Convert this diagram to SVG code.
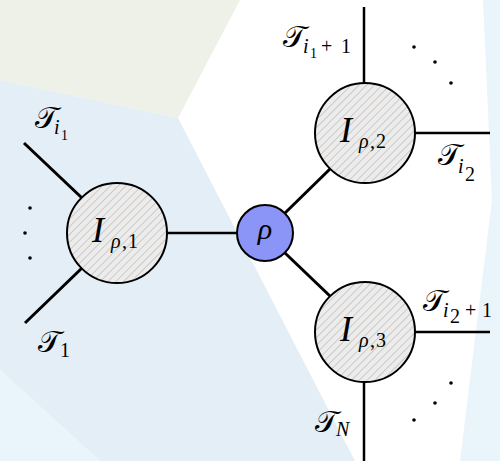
<svg xmlns="http://www.w3.org/2000/svg" width="500" height="461" viewBox="0 0 500 461">
<style>
.leg{stroke:#000;stroke-width:2.5;fill:none;stroke-linecap:butt}
.edge{stroke:#000;stroke-width:3;fill:none}
.blob{fill:url(#hatch);stroke:#000;stroke-width:2}
.rho{fill:#8b95f7;stroke:#000;stroke-width:2}
.m{font-family:"Liberation Serif","DejaVu Serif",serif;font-size:30px;fill:#000}
.it{font-style:italic}
.s{font-size:20px}
.ss{font-size:14px}
.dot{fill:#000}
</style>
<defs>
<pattern id="hatch" width="5.5" height="5.5" patternUnits="userSpaceOnUse" patternTransform="rotate(45)">
<rect width="5.5" height="5.5" fill="#ececec"/>
<line x1="0" y1="0" x2="0" y2="5.5" stroke="#b3afa9" stroke-width="1.1"/>
</pattern>
</defs>
<g id="background">
<rect width="500" height="461" fill="#ffffff"/>
<polygon points="0,0 240,0 178,118 0,80" fill="#eef1e7"/>
<polygon points="0,80 178,118 355,461 100,461 0,370" fill="#e4eef6"/>
<polygon points="0,370 100,461 0,461" fill="#e9f4fb"/>
<polygon points="483,0 492,200 460,461 500,461 500,0" fill="#e9f4fb"/>
</g>
<g id="connectors">
<line class="leg" x1="167" y1="233" x2="237" y2="233"/>
<line class="edge" x1="285" y1="213" x2="331" y2="168"/>
<line class="edge" x1="285" y1="253" x2="331" y2="297"/>
<line class="edge" x1="82" y1="198" x2="24" y2="143"/>
<line class="edge" x1="82" y1="268" x2="25" y2="323"/>
<line class="leg" x1="364" y1="83" x2="364" y2="7"/>
<line class="leg" x1="415" y1="133" x2="490" y2="133"/>
<line class="leg" x1="415" y1="332" x2="490" y2="332"/>
<line class="leg" x1="364" y1="382" x2="364" y2="461"/>
</g>
<g id="dots">
<circle class="dot" cx="30" cy="208" r="1.8"/>
<circle class="dot" cx="25" cy="233" r="1.8"/>
<circle class="dot" cx="30" cy="258" r="1.8"/>
<circle class="dot" cx="414" cy="47" r="1.8"/>
<circle class="dot" cx="435" cy="62" r="1.8"/>
<circle class="dot" cx="451" cy="83" r="1.8"/>
<circle class="dot" cx="451" cy="383" r="1.8"/>
<circle class="dot" cx="435" cy="403" r="1.8"/>
<circle class="dot" cx="414" cy="420" r="1.8"/>
</g>
<g id="node-I1">
<circle class="blob" cx="117" cy="233" r="50"/>
<text class="m"><tspan class="it" x="92" y="242" font-size="36">I</tspan><tspan class="it s" x="111" y="248">ρ</tspan><tspan class="s" x="122" y="248">,</tspan><tspan class="s" x="128" y="248">1</tspan></text>
</g>
<g id="node-rho">
<circle class="rho" cx="265" cy="233" r="28"/>
<text class="m it" x="265" y="239" text-anchor="middle" font-size="32">ρ</text>
</g>
<g id="node-I2">
<circle class="blob" cx="365" cy="133" r="50"/>
<text class="m"><tspan class="it" x="340" y="142" font-size="36">I</tspan><tspan class="it s" x="359" y="148">ρ</tspan><tspan class="s" x="370" y="148">,</tspan><tspan class="s" x="376" y="148">2</tspan></text>
</g>
<g id="node-I3">
<circle class="blob" cx="365" cy="332" r="50"/>
<text class="m"><tspan class="it" x="340" y="341" font-size="36">I</tspan><tspan class="it s" x="359" y="347">ρ</tspan><tspan class="s" x="370" y="347">,</tspan><tspan class="s" x="376" y="347">3</tspan></text>
</g>
<g id="labels">
<text class="m"><tspan x="35" y="128">𝒯</tspan><tspan class="it s" x="54" y="134">i</tspan><tspan class="ss" x="61" y="140">1</tspan></text>
<text class="m"><tspan x="283" y="47">𝒯</tspan><tspan class="it s" x="303" y="53">i</tspan><tspan class="ss" x="310" y="58">1</tspan><tspan class="s" x="321" y="53">+</tspan><tspan class="s" x="341" y="53">1</tspan></text>
<text class="m"><tspan x="438" y="165">𝒯</tspan><tspan class="it s" x="458" y="173">i</tspan><tspan class="s" x="465" y="181">2</tspan></text>
<text class="m"><tspan x="423" y="311">𝒯</tspan><tspan class="it s" x="443" y="317">i</tspan><tspan class="s" x="450" y="323">2</tspan><tspan class="s" x="465" y="317">+</tspan><tspan class="s" x="482" y="317">1</tspan></text>
<text class="m"><tspan x="315" y="432">𝒯</tspan><tspan class="it s" x="336" y="436">N</tspan></text>
<text class="m"><tspan x="38" y="352">𝒯</tspan><tspan class="s" x="60" y="357">1</tspan></text>
</g>
</svg>
